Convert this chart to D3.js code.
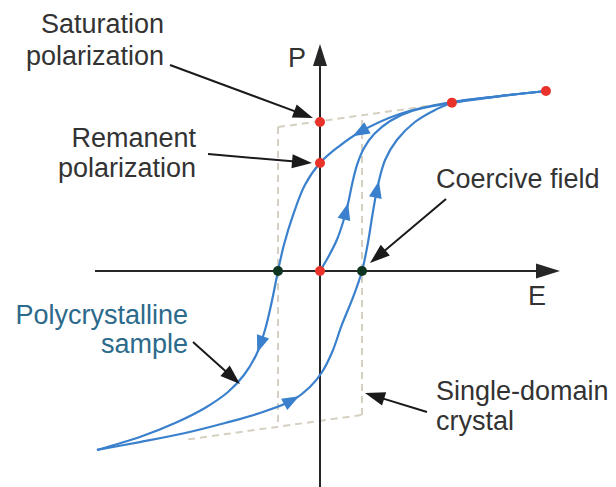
<!DOCTYPE html>
<html>
<head>
<meta charset="utf-8">
<script src="https://cdn.jsdelivr.net/npm/d3@7"></script>
<style>
  body { margin: 0; background: #fff; }
  svg { display: block; }
  text { font-family: "Liberation Sans", Arial, Helvetica, sans-serif; }
</style>
</head>
<body>
<div id="chart"></div>
<script>
// E in units of the coercive field, P in units of the saturation polarization
const descending = [
  [5.38, 1.208], [4.29, 1.174], [3.14, 1.134], [1.9, 1.054], [0.95, 0.933],
  [0.43, 0.832], [0, 0.725], [-0.36, 0.577], [-0.64, 0.376], [-0.86, 0.174],
  [-1.0, 0], [-1.14, -0.195], [-1.31, -0.396], [-1.52, -0.564],
  [-1.81, -0.698], [-2.19, -0.812], [-2.74, -0.919], [-3.45, -1.02],
  [-4.29, -1.114], [-5.31, -1.201]
];
const ascending = [
  [-5.31, -1.201], [-4.29, -1.148], [-3.21, -1.087], [-2.26, -1.02],
  [-1.43, -0.953], [-0.64, -0.866], [-0.24, -0.779], [0.05, -0.678],
  [0.29, -0.544], [0.52, -0.362], [0.79, -0.174], [1.0, 0], [1.14, 0.188],
  [1.26, 0.396], [1.38, 0.577], [1.55, 0.745], [1.83, 0.879], [2.26, 1.0],
  [2.74, 1.081], [3.14, 1.128], [4.29, 1.174], [5.38, 1.208]
];
const virgin = [
  [0, 0], [0.21, 0.101], [0.4, 0.208], [0.55, 0.329], [0.67, 0.456],
  [0.76, 0.577], [0.88, 0.711], [1.05, 0.826], [1.29, 0.919], [1.67, 1.007],
  [2.19, 1.074], [3.14, 1.128], [4.29, 1.174], [5.38, 1.208]
];
// ideal single-domain square loop (dashed)
const singleDomain = [
  [[-1, 0.966], [3.14, 1.13]],
  [[-3.14, -1.13], [1, -0.966]],
  [[-1, 0.966], [-1, -1.045]],
  [[1, -0.966], [1, 1.045]]
];
const redPoints = [[0, 1], [0, 0.725], [0, 0], [3.14, 1.13], [5.38, 1.208]];
const coercivePoints = [[-1, 0], [1, 0]];
// where the direction arrows sit on each branch
const flowArrows = [
  { branch: descending, near: [0.95, 0.93] },
  { branch: descending, near: [-1.38, -0.5] },
  { branch: ascending, near: [-0.64, -0.88] },
  { branch: ascending, near: [1.36, 0.55] },
  { branch: virgin, near: [0.66, 0.4] }
];

const width = 616, height = 487;

const svg = d3.select("#chart")
  .append("svg")
  .attr("width", width)
  .attr("height", height)
  .attr("viewBox", [0, 0, width, height]);

svg.append("rect").attr("width", width).attr("height", height).attr("fill", "#fff");

const x = d3.scaleLinear().domain([-1, 1]).range([278, 362]);
const y = d3.scaleLinear().domain([-1, 1]).range([420, 122]);

const curve = d3.line()
  .x((d) => x(d[0]))
  .y((d) => y(d[1]))
  .curve(d3.curveCatmullRom.alpha(0.5));

const straight = d3.line().x((d) => x(d[0])).y((d) => y(d[1]));

// dashed single-domain loop
svg.append("g")
  .selectAll("path")
  .data(singleDomain)
  .enter()
  .append("path")
  .attr("d", straight)
  .attr("fill", "none")
  .attr("stroke", "#d6d0c2")
  .attr("stroke-width", 2)
  .attr("stroke-dasharray", "7,5");

// axes
const axisColor = "#262626";
function arrowHead(g, tip, dir, len, half, color) {
  const [tx, ty] = tip, [dx, dy] = dir;
  const bx = tx - dx * len, by = ty - dy * len;
  g.append("path")
    .attr("d", `M${tx},${ty}L${bx - dy * half},${by + dx * half}L${bx + dy * half},${by - dx * half}Z`)
    .attr("fill", color);
}
const axes = svg.append("g");
axes.append("line")
  .attr("x1", 95).attr("x2", 545)
  .attr("y1", y(0)).attr("y2", y(0))
  .attr("stroke", axisColor).attr("stroke-width", 2);
arrowHead(axes, [560, y(0)], [1, 0], 24, 7.5, axisColor);
axes.append("line")
  .attr("x1", x(0)).attr("x2", x(0))
  .attr("y1", 487).attr("y2", 58)
  .attr("stroke", axisColor).attr("stroke-width", 2);
arrowHead(axes, [x(0), 44], [0, -1], 22, 7, axisColor);

// hysteresis branches
const blue = "#3a80cc";
const branches = svg.append("g");
const paths = new Map();
[descending, ascending, virgin].forEach((b) => {
  const p = branches.append("path")
    .attr("d", curve(b))
    .attr("fill", "none")
    .attr("stroke", blue)
    .attr("stroke-width", 2.2);
  paths.set(b, p.node());
});

// flow direction arrows along the branches
flowArrows.forEach((a) => {
  const node = paths.get(a.branch);
  const total = node.getTotalLength();
  const px = x(a.near[0]), py = y(a.near[1]);
  let best = 0, bestD = Infinity;
  for (let l = 0; l <= total; l += 0.5) {
    const pt = node.getPointAtLength(l);
    const dd = (pt.x - px) ** 2 + (pt.y - py) ** 2;
    if (dd < bestD) { bestD = dd; best = l; }
  }
  const p0 = node.getPointAtLength(Math.max(0, best - 3));
  const p1 = node.getPointAtLength(Math.min(total, best + 3));
  const n = Math.hypot(p1.x - p0.x, p1.y - p0.y);
  const dir = [(p1.x - p0.x) / n, (p1.y - p0.y) / n];
  const tip = node.getPointAtLength(Math.min(total, best + 8));
  arrowHead(branches, [tip.x, tip.y], dir, 17, 6.5, blue);
});

// marked points
svg.append("g")
  .selectAll("circle")
  .data(redPoints)
  .enter()
  .append("circle")
  .attr("cx", (d) => x(d[0]))
  .attr("cy", (d) => y(d[1]))
  .attr("r", 5)
  .attr("fill", "#e8322a");
svg.append("g")
  .selectAll("circle")
  .data(coercivePoints)
  .enter()
  .append("circle")
  .attr("cx", (d) => x(d[0]))
  .attr("cy", (d) => y(d[1]))
  .attr("r", 5)
  .attr("fill", "#0f3520");

// annotation arrows
const pointers = svg.append("g");
function pointer(from, to) {
  const dx = to[0] - from[0], dy = to[1] - from[1];
  const n = Math.hypot(dx, dy);
  const dir = [dx / n, dy / n];
  pointers.append("line")
    .attr("x1", from[0]).attr("y1", from[1])
    .attr("x2", to[0] - dir[0] * 14).attr("y2", to[1] - dir[1] * 14)
    .attr("stroke", "#1a1a1a").attr("stroke-width", 2);
  arrowHead(pointers, to, dir, 20, 7, "#1a1a1a");
}
pointer([170, 65], [313, 118]);
pointer([208, 154], [312, 163]);
pointer([446, 199], [370, 263]);
pointer([193, 342], [240, 384]);
pointer([427, 412], [365, 393]);

// labels
const textColor = "#333";
const fs = 27;
function label(lines, xPos, yPos, anchor, color, lh) {
  const t = svg.append("text")
    .attr("x", xPos)
    .attr("y", yPos)
    .attr("text-anchor", anchor)
    .attr("font-size", fs)
    .attr("fill", color);
  lines.forEach((s, i) => {
    t.append("tspan").attr("x", xPos).attr("dy", i === 0 ? 0 : lh).text(s);
  });
}
label(["Saturation", "polarization"], 164, 33, "end", textColor, 32);
label(["Remanent", "polarization"], 196, 147, "end", textColor, 30);
label(["P"], 288, 67, "start", textColor, 0);
label(["E"], 528, 305, "start", textColor, 0);
label(["Coercive field"], 436, 188, "start", textColor, 0);
label(["Polycrystalline", "sample"], 188, 324, "end", "#2c6a8c", 29);
label(["Single-domain", "crystal"], 436, 400, "start", textColor, 30);
</script>
</body>
</html>
